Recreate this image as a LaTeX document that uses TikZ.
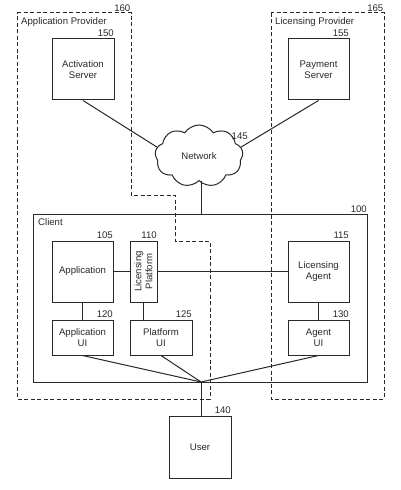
\documentclass[tikz,border=0pt]{standalone}
\usepackage{fontspec}
\setmainfont{Liberation Sans}
\usetikzlibrary{shapes.symbols}
\definecolor{ink}{RGB}{40,40,40}
\begin{document}
\begin{tikzpicture}[x=1bp,y=-1bp,
  every node/.style={font=\fontsize{9.6bp}{11bp}\selectfont, text=ink},
  box/.style={draw=ink, line width=1bp, align=center, inner sep=0pt},
  bigbox/.style={box, minimum width=61bp, minimum height=61bp},
  uibox/.style={box, minimum width=61bp, minimum height=35bp},
  num/.style={anchor=south east, inner xsep=0.5bp, inner ysep=1.3bp},
  grp/.style={draw=ink, line width=1bp, dash pattern=on 4bp off 2.5bp},
  conn/.style={draw=ink, line width=1bp}]
\useasboundingbox (0,0) rectangle (400,490);

% provider regions
\draw[grp] (17,13) -- (131,13) -- (131,195) -- (175,195) -- (175,241) -- (210,241) -- (210,399) -- (17,399) -- cycle;
\draw[grp] (271,13) rectangle (384,399);
\node[anchor=west, inner sep=0pt] (aplbl) at (21,22) {Application Provider};
\node[num] (n160) at (131,13) {160};
\node[anchor=west, inner sep=0pt] (lplbl) at (275,22) {Licensing Provider};
\node[num] (n165) at (384,13) {165};

% servers
\node[bigbox, minimum width=62bp] (act) at (83,69.5) {Activation\\Server};
\node[num] at (act.north east) {150};
\node[bigbox] (pay) at (318.5,69.5) {Payment\\Server};
\node[num] at (pay.north east) {155};

% network
\node[cloud, cloud puffs=9, cloud puff arc=115, aspect=1.45, draw=ink, line width=1bp,
      minimum width=88bp, minimum height=62bp, inner sep=0pt] (net) at (199,156) {Network};
\node[anchor=south west, inner sep=0.5bp] at (231,140) {145};

% client
\node[box, minimum width=333bp, minimum height=167bp] (client) at (200.5,298.5) {};
\node[anchor=west, inner sep=0pt] (clbl) at (38,222) {Client};
\node[num] at (client.north east) {100};

\node[bigbox] (app) at (82.5,271.5) {Application};
\node[num] at (app.north east) {105};
\node[box, minimum width=27bp, minimum height=61bp] (lp) at (143.5,271.5) {};
\node[rotate=90, align=center, inner sep=0pt] (lptxt) at (lp.center) {Licensing\\Platform};
\node[num] at (lp.north east) {110};
\node[bigbox] (la) at (318.5,271.5) {Licensing\\Agent};
\node[num] at (la.north east) {115};

\node[uibox] (aui) at (82.5,337.5) {Application\\UI};
\node[num] at (aui.north east) {120};
\node[uibox, minimum width=62bp] (pui) at (161,337.5) {Platform\\UI};
\node[num] at (pui.north east) {125};
\node[uibox] (gui) at (318.5,337.5) {Agent\\UI};
\node[num] at (gui.north east) {130};

% user
\node[bigbox, minimum width=62bp, minimum height=62bp] (user) at (200,447) {User};
\node[num] at (user.north east) {140};

\coordinate (hub) at (201,382);

% connectors
\draw[conn] (act.south) -- (net.168);
\draw[conn] (pay.south) -- (net.12);
\draw[conn] (net.south -| hub) -- (hub |- client.north);
\draw[conn] (app.east) -- (lp.west);
\draw[conn] (lp.east) -- (la.west |- lp.east);
\draw[conn] (app.south) -- (aui.north);
\draw[conn] (lp.south) -- (lp.south |- pui.north);
\draw[conn] (la.south) -- (gui.north);
\draw[conn] (aui.south) -- (hub);
\draw[conn] (pui.south) -- (hub);
\draw[conn] (gui.south) -- (hub);
\draw[conn] (hub) -- (hub |- user.north);
\end{tikzpicture}
\end{document}
